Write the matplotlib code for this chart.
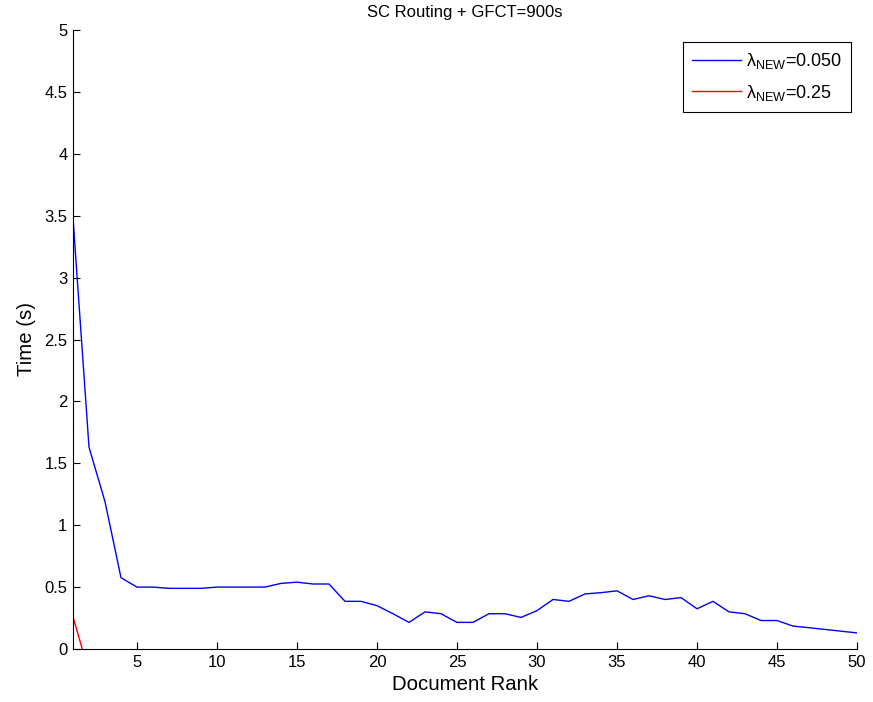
import numpy as np
import matplotlib
matplotlib.use("Agg")
import matplotlib.pyplot as plt

plt.rcParams["font.family"] = ["Liberation Sans", "DejaVu Sans"]
plt.rcParams["mathtext.fontset"] = "custom"
plt.rcParams["mathtext.rm"] = "Liberation Sans"
plt.rcParams["mathtext.it"] = "Liberation Sans:italic"

# ---- DATA ----
rank = np.arange(1, 51)
time_lam050 = [3.48, 1.63, 1.19, 0.576, 0.50, 0.50, 0.49, 0.49, 0.49, 0.50,
               0.50, 0.50, 0.50, 0.53, 0.54, 0.525, 0.525, 0.385, 0.385, 0.35,
               0.285, 0.215, 0.30, 0.285, 0.215, 0.215, 0.285, 0.285, 0.255, 0.31,
               0.40, 0.385, 0.445, 0.455, 0.47, 0.40, 0.43, 0.40, 0.415, 0.325,
               0.385, 0.30, 0.285, 0.23, 0.23, 0.185, 0.172, 0.158, 0.144, 0.13]
rank_lam025 = [1, 2]
time_lam025 = [0.26, -0.19]

xticks = [5, 10, 15, 20, 25, 30, 35, 40, 45, 50]
yticks = [0, 0.5, 1, 1.5, 2, 2.5, 3, 3.5, 4, 4.5, 5]
ytick_labels = ["0", "0.5", "1", "1.5", "2", "2.5", "3", "3.5", "4", "4.5", "5"]

# ---- PLOT ----
fig = plt.figure(figsize=(8.73, 7.02), dpi=100)
ax = fig.add_axes([73 / 873, 53 / 702, 784 / 873, 619 / 702])

ax.plot(rank, time_lam050, color="#0000ff", linewidth=1.0,
        label="λ$_{\\mathrm{NEW}}$=0.050")
ax.plot(rank_lam025, time_lam025, color="#ff0000", linewidth=1.0,
        label="λ$_{\\mathrm{NEW}}$=0.25")

ax.set_xlim(1, 50)
ax.set_ylim(0, 5)
ax.set_xticks(xticks)
ax.set_yticks(yticks)
ax.set_yticklabels(ytick_labels)
ax.tick_params(direction="in", length=5, labelsize=12, width=0.8, pad=4)

ax.spines["top"].set_visible(False)
ax.spines["right"].set_visible(False)

ax.set_xlabel("Document Rank", fontsize=14.7, labelpad=4)
ax.set_ylabel("Time (s)", fontsize=14.7, labelpad=6)
ax.set_title("SC Routing + GFCT=900s", fontsize=12, pad=9)

leg = ax.legend(loc="upper right", fontsize=13, fancybox=False,
                framealpha=1, edgecolor="black", handlelength=2.7,
                handletextpad=0.3, labelspacing=0.65, borderpad=0.5,
                bbox_to_anchor=(851 / 873, 660 / 702),
                bbox_transform=fig.transFigure, borderaxespad=0)
leg.get_frame().set_linewidth(0.8)

fig.savefig("out.png", dpi=100)
